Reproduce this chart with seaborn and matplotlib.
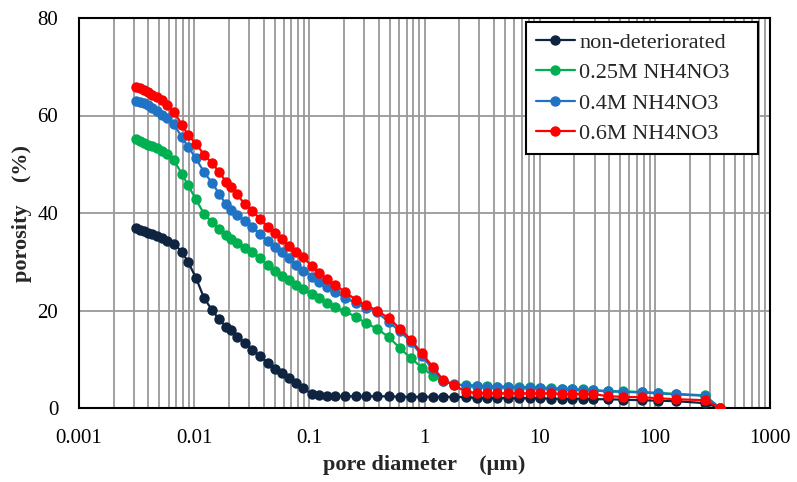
import numpy as np
import pandas as pd
import matplotlib
matplotlib.use("Agg")
import matplotlib.pyplot as plt
import seaborn as sns
from matplotlib.ticker import FixedLocator, LogLocator, NullFormatter

# pore diameters (µm) at which the intrusion was recorded
diameter = [0.00313, 0.00338, 0.00367, 0.00397, 0.00430, 0.00475, 0.00525, 0.00581,
            0.00668, 0.00784, 0.00884, 0.01036, 0.01217, 0.01427, 0.01642, 0.01888,
            0.02087, 0.02353, 0.02761, 0.03176, 0.03725, 0.04371, 0.05028, 0.05783,
            0.06651, 0.0765, 0.08799, 0.1054, 0.1212, 0.1422, 0.1668, 0.2037,
            0.2539, 0.31, 0.3862, 0.4909, 0.6117, 0.762, 0.9493, 1.183,
            1.444, 1.8, 2.288, 2.851, 3.481, 4.251, 5.297, 6.597,
            8.222, 10.04, 12.51, 15.58, 19.03, 23.71, 28.96, 39.08,
            52.76, 77.14, 106.2, 152.1, 271.6, 366.6]

non_deteriorated = [36.9, 36.6, 36.3, 35.9, 35.6, 35.2, 34.8, 34.3,
                    33.7, 32.0, 30.0, 26.7, 22.6, 20.1, 18.2, 16.7,
                    16.1, 14.6, 13.3, 11.9, 10.7, 9.2, 8.1, 7.1,
                    6.1, 5.1, 4.1, 2.8, 2.6, 2.5, 2.5, 2.4,
                    2.4, 2.4, 2.4, 2.4, 2.3, 2.3, 2.3, 2.3,
                    2.3, 2.3, 2.2, 2.1, 2.1, 2.1, 2.0, 2.0,
                    2.0, 2.0, 1.9, 1.9, 1.9, 1.9, 1.8, 1.8,
                    1.7, 1.6, 1.5, 1.4, 1.0, 0.0]

m025_nh4no3 = [55.1, 54.8, 54.4, 54.0, 53.7, 53.3, 52.8, 52.1,
               50.8, 48.0, 45.7, 42.8, 39.8, 38.1, 36.8, 35.5,
               34.6, 33.8, 32.8, 31.9, 30.8, 29.3, 28.2, 27.1,
               26.3, 25.3, 24.4, 23.3, 22.5, 21.6, 20.7, 19.8,
               18.7, 17.4, 16.3, 14.5, 12.3, 10.2, 8.3, 6.6,
               5.5, 4.8, 4.7, 4.6, 4.5, 4.4, 4.4, 4.3,
               4.3, 4.2, 4.1, 4.0, 3.9, 3.8, 3.7, 3.5,
               3.4, 3.3, 3.1, 2.9, 2.6, 0.0]

m04_nh4no3 = [63.0, 62.8, 62.5, 62.2, 61.6, 61.0, 60.2, 59.5,
              58.2, 55.5, 53.6, 51.2, 48.4, 46.2, 44.0, 41.8,
              40.6, 39.6, 38.4, 37.1, 35.7, 34.3, 33.1, 31.9,
              30.7, 29.4, 28.2, 26.9, 25.8, 24.8, 23.8, 22.6,
              21.5, 20.6, 19.6, 17.7, 15.7, 13.6, 10.7, 7.9,
              5.6, 4.9, 4.6, 4.5, 4.4, 4.3, 4.3, 4.2,
              4.2, 4.1, 4.0, 3.9, 3.8, 3.7, 3.6, 3.4,
              3.3, 3.2, 3.0, 2.8, 2.5, 0.0]

m06_nh4no3 = [65.8, 65.6, 65.2, 64.8, 64.3, 63.8, 63.1, 62.1,
              60.7, 58.1, 56.0, 54.2, 52.0, 50.2, 48.5, 46.4,
              45.3, 43.8, 41.8, 40.5, 38.8, 37.2, 36.0, 34.7,
              33.3, 32.1, 30.9, 29.1, 27.6, 26.5, 25.3, 23.8,
              22.2, 21.1, 20.0, 18.4, 16.3, 14.0, 11.2, 8.4,
              5.8, 4.7, 3.3, 3.1, 3.0, 3.0, 3.0, 3.0,
              3.0, 3.0, 3.0, 2.9, 2.9, 2.9, 2.9, 2.4,
              2.3, 2.2, 2.0, 1.8, 1.6, 0.0]

series_names = ["non-deteriorated", "0.25M NH4NO3", "0.4M NH4NO3", "0.6M NH4NO3"]
series_values = [non_deteriorated, m025_nh4no3, m04_nh4no3, m06_nh4no3]
series_colors = ["#0F2440", "#00B050", "#1F72C4", "#FF0000"]

x_ticks = [0.001, 0.01, 0.1, 1, 10, 100, 1000]
x_tick_labels = ["0.001", "0.01", "0.1", "1", "10", "100", "1000"]
y_ticks = [0, 20, 40, 60, 80]

frames = []
for name, vals in zip(series_names, series_values):
    frames.append(pd.DataFrame({"diameter": diameter, "porosity": vals, "sample": name}))
df = pd.concat(frames, ignore_index=True)

sns.set_style("white")
plt.rcParams["font.family"] = ["Liberation Serif", "DejaVu Serif"]

fig = plt.figure(figsize=(7.97, 4.82), dpi=100)
ax = fig.add_axes([79 / 797, 1 - 408 / 482, (770 - 79) / 797, (408 - 18) / 482])

sns.lineplot(data=df, x="diameter", y="porosity", hue="sample",
             hue_order=series_names, palette=series_colors,
             estimator=None, sort=False, marker="o", markersize=7.5,
             markeredgewidth=0, linewidth=1.6, ax=ax, zorder=3)

ax.set_xscale("log")
ax.set_xlim(0.001, 1000)
ax.set_ylim(0, 80)

ax.xaxis.set_major_locator(FixedLocator(x_ticks))
ax.set_xticklabels(x_tick_labels)
ax.xaxis.set_minor_locator(LogLocator(base=10, subs=np.arange(2, 10)))
ax.xaxis.set_minor_formatter(NullFormatter())
ax.set_yticks(y_ticks)

ax.grid(True, which="major", axis="both", color="#999999", linewidth=1.3, zorder=0)
ax.grid(True, which="minor", axis="x", color="#999999", linewidth=1.3, zorder=0)
ax.set_axisbelow(True)

ax.tick_params(axis="both", which="major", direction="in", length=5, width=1.2,
               labelsize=15, colors="black")
ax.tick_params(axis="x", which="major", pad=15)
ax.tick_params(axis="y", which="major", pad=15)
ax.tick_params(axis="x", which="minor", length=0)
for s in ax.spines.values():
    s.set_color("black")
    s.set_linewidth(1.5)

ax.set_xlabel("pore diameter\u2003(\u03bcm)", fontsize=16, fontweight="bold", labelpad=5)
ax.set_ylabel("porosity\u2003(%)", fontsize=16, fontweight="bold", labelpad=4)

# legend box spans a fixed region in the upper right of the plot area
leg_x0 = (526 - 79) / 691
leg_w = (758 - 526) / 691
leg_top = (408 - 22) / 390
leg = ax.legend(loc="upper left", bbox_to_anchor=(leg_x0, 0, leg_w, leg_top),
                mode="expand", borderaxespad=0, fontsize=16,
                frameon=True, fancybox=False, edgecolor="black", framealpha=1,
                handlelength=1.75, borderpad=0.45, labelspacing=0.45,
                handletextpad=0.2)
leg.get_frame().set_linewidth(1.5)
leg.set_zorder(5)

fig.savefig("out.png", dpi=100)
